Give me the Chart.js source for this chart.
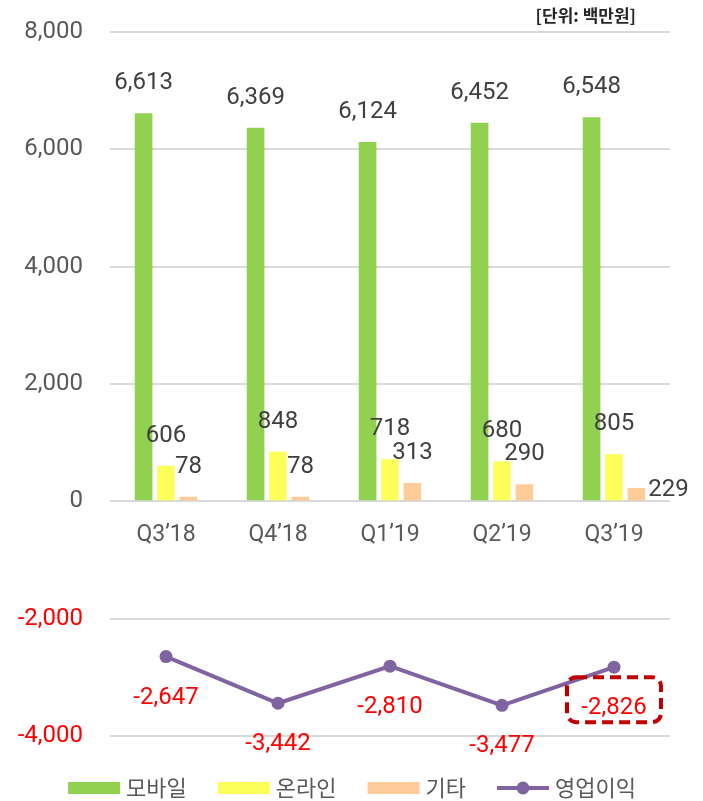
<!DOCTYPE html>
<html><head><meta charset="utf-8">
<script src="https://cdn.jsdelivr.net/npm/chart.js@4"></script>
<style>html,body{margin:0;padding:0;background:#fff;}canvas{display:block;}</style>
</head><body>
<canvas id="c" width="703" height="801"></canvas>
<script>
const categories = ['Q3\u201918', 'Q4\u201918', 'Q1\u201919', 'Q2\u201919', 'Q3\u201919'];
const seriesNames = ['모바일', '온라인', '기타', '영업이익'];
const mobile = [6613, 6369, 6124, 6452, 6548];
const online = [606, 848, 718, 680, 805];
const other = [78, 78, 313, 290, 229];
const operatingProfit = [-2647, -3442, -2810, -3477, -2826];
const yMin = -4000, yMax = 8000, yStep = 2000;
const unitLabel = '[단위: 백만원]';

const NUM_FONT = 'Roboto, "Noto Sans", sans-serif';
const KR_FONT = '"Noto Sans CJK KR", "Noto Sans", sans-serif';
const colors = ['#92D050', '#FFFF5A', '#FFCC99', '#8064A2'];
const fmt = v => v.toLocaleString('en-US');

const labelsPlugin = {
  id: 'valueLabels',
  afterDatasetsDraw(chart) {
    const ctx = chart.ctx;
    ctx.save();
    ctx.font = '24px ' + NUM_FONT;
    ctx.textBaseline = 'middle';
    chart.data.datasets.forEach((ds, di) => {
      const meta = chart.getDatasetMeta(di);
      meta.data.forEach((el, i) => {
        const v = ds.data[i];
        const t = fmt(v);
        if (ds.type === 'line') {
          ctx.fillStyle = '#FF0000';
          ctx.textAlign = 'center';
          const ly = el.y + 41;
          ctx.fillText(t, el.x, ly);
          if (i === ds.data.length - 1) {
            ctx.save();
            ctx.strokeStyle = '#C00000';
            ctx.lineWidth = 4;
            ctx.setLineDash([11, 6]);
            ctx.beginPath();
            ctx.roundRect(el.x - 47, ly - 31, 94, 45, 9);
            ctx.stroke();
            ctx.restore();
          }
        } else {
          ctx.fillStyle = '#404040';
          const right = di === 2 && i === ds.data.length - 1;
          if (right) {
            ctx.textAlign = 'left';
            ctx.fillText(t, el.x + el.width / 2 + 3, el.y + 2);
          } else {
            ctx.textAlign = 'center';
            ctx.fillText(t, el.x, el.y - 30);
          }
        }
      });
    });
    ctx.restore();
  },
  afterDraw(chart) {
    const ctx = chart.ctx;
    ctx.save();
    // unit label
    ctx.font = 'bold 17px ' + KR_FONT;
    ctx.fillStyle = '#262626';
    ctx.textAlign = 'right';
    ctx.textBaseline = 'middle';
    ctx.fillText(unitLabel, 636, 16);
    // legend
    ctx.font = '22px ' + KR_FONT;
    const boxW = 52, boxH = 12, gapBT = 6, gap = 31, cy = 788;
    const widths = seriesNames.map(n => boxW + gapBT + ctx.measureText(n).width);
    const total = widths.reduce((a, b) => a + b, 0) + gap * (seriesNames.length - 1);
    let x = 352 - total / 2;
    seriesNames.forEach((n, k) => {
      if (k < 3) {
        ctx.fillStyle = colors[k];
        ctx.fillRect(x, cy - boxH / 2, boxW, boxH);
      } else {
        ctx.strokeStyle = colors[3];
        ctx.lineWidth = 4;
        ctx.beginPath();
        ctx.moveTo(x, cy);
        ctx.lineTo(x + boxW, cy);
        ctx.stroke();
        ctx.fillStyle = colors[3];
        ctx.beginPath();
        ctx.arc(x + boxW / 2, cy, 6.5, 0, Math.PI * 2);
        ctx.fill();
      }
      ctx.fillStyle = '#595959';
      ctx.textAlign = 'left';
      ctx.textBaseline = 'middle';
      ctx.fillText(n, x + boxW + gapBT, cy);
      x += widths[k] + gap;
    });
    ctx.restore();
  }
};

new Chart(document.getElementById('c'), {
  type: 'bar',
  data: {
    labels: categories,
    datasets: [
      { label: seriesNames[0], data: mobile, backgroundColor: colors[0], order: 2 },
      { label: seriesNames[1], data: online, backgroundColor: colors[1], order: 2 },
      { label: seriesNames[2], data: other, backgroundColor: colors[2], order: 2 },
      { type: 'line', label: seriesNames[3], data: operatingProfit, borderColor: colors[3],
        backgroundColor: colors[3], borderWidth: 4, pointRadius: 6.5, pointHoverRadius: 6.5,
        pointBackgroundColor: colors[3], pointBorderWidth: 0, tension: 0, order: 1 }
    ]
  },
  options: {
    responsive: false,
    animation: false,
    devicePixelRatio: 1,
    layout: { padding: { left: 0, right: 33, top: 32, bottom: 65 } },
    datasets: { bar: { categoryPercentage: 0.6, barPercentage: 0.787 } },
    plugins: { legend: { display: false }, tooltip: { enabled: false } },
    scales: {
      x: {
        position: { y: 0 },
        afterFit: s => { s.height = 0; s.paddingTop = 0; s.paddingBottom = 0; },
        grid: { display: false, drawTicks: false },
        border: { display: false },
        ticks: { padding: 20, color: '#595959', font: { family: NUM_FONT, size: 23 } }
      },
      y: {
        min: yMin, max: yMax,
        afterFit: s => { s.width = 110; s.paddingTop = 0; s.paddingBottom = 0; },
        grid: { color: '#D9D9D9', lineWidth: 2, drawTicks: false },
        border: { display: false },
        ticks: {
          stepSize: yStep, padding: 27,
          color: c => c.tick.value < 0 ? '#FF0000' : '#595959',
          font: { family: NUM_FONT, size: 24 },
          callback: v => fmt(v)
        }
      }
    }
  },
  plugins: [labelsPlugin]
});
</script>
</body></html>
